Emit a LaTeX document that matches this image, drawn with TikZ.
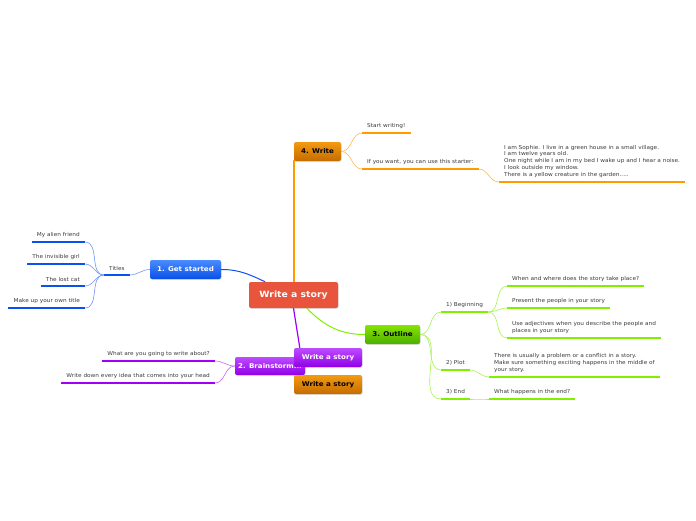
\documentclass[tikz,border=0pt]{standalone}
\usepackage{fontspec}
\setmainfont{DejaVu Sans}
\newfontfamily\wideface[FakeStretch=1.08]{DejaVu Sans}
\usepackage{xcolor}
\usepackage{tikz}
\usetikzlibrary{shadows}
\definecolor{mBlue}{HTML}{0D50F2}
\definecolor{mBlueTop}{HTML}{4A8CFF}
\definecolor{mBlueBot}{HTML}{0A4FE6}
\definecolor{mOrange}{HTML}{FF9A00}
\definecolor{mOrangeTop}{HTML}{F49A12}
\definecolor{mOrangeBot}{HTML}{C46C00}
\definecolor{mGreen}{HTML}{80F000}
\definecolor{mGreenTop}{HTML}{86E400}
\definecolor{mGreenBot}{HTML}{4CAF00}
\definecolor{mPurple}{HTML}{A000F8}
\definecolor{mPurpleTop}{HTML}{BE4CFF}
\definecolor{mPurpleBot}{HTML}{9000E6}
\definecolor{mRed}{HTML}{E8553C}
\definecolor{mText}{HTML}{3A3A3A}

\begin{document}
\begin{tikzpicture}[x=1pt, y=1pt,
  topic/.style={rounded corners=2pt, inner sep=0pt, minimum height=19pt, font=\wideface\fontsize{6.6}{7.5}\selectfont\bfseries, drop shadow={opacity=0.25, shadow xshift=0.6pt, shadow yshift=-0.8pt}},
  leaf/.style={font=\wideface\fontsize{5.35}{6.8}\selectfont, text=mText, inner xsep=5pt, inner ysep=4.3pt, align=left, append after command={(\tikzlastnode.south west) edge[draw=#1, line width=2.4pt] (\tikzlastnode.south east)}},
  twig/.style={draw=#1, line width=0.6pt}]
\useasboundingbox (0,0) rectangle (696,-520);
% main topics
\node[topic, fill=mRed, text=white, minimum width=89pt, minimum height=26pt, font=\wideface\fontsize{8.6}{10}\selectfont\bfseries] (story) at (293.5,-295) {Write a story};
\node[topic, top color=mBlueTop, bottom color=mBlueBot, text=white, minimum width=71pt] (started) at (185.5,-269.5) {1. Get started};
\node[topic, top color=mOrangeTop, bottom color=mOrangeBot, text=black, minimum width=47pt] (write) at (317.5,-151.5) {4. Write};
\node[topic, top color=mGreenTop, bottom color=mGreenBot, text=black, minimum width=55pt] (outline) at (392.5,-334.5) {3. Outline};
\node[topic, top color=mPurpleTop, bottom color=mPurpleBot, text=white, minimum width=70pt, minimum height=18pt] (brainstorm) at (270,-366) {2. Brainstorm...};
\node[topic, top color=mPurpleTop, bottom color=mPurpleBot, text=white, minimum width=68pt] (storyp) at (328,-357.5) {Write a story};
\node[topic, top color=mOrangeTop, bottom color=mOrangeBot, text=black, minimum width=68pt] (storyo) at (328,-384.5) {Write a story};
\draw[mBlue, line width=1pt] (story) to[out=155,in=0] (started);
\draw[mOrange, line width=1.5pt] (write.south west |- story.north) -- ([yshift=1pt]write.south west);
\draw[mGreen, line width=1pt] (story) to[out=-45,in=180] (outline);
\draw[mPurple, line width=1.2pt] (story.south) -- ([xshift=6pt]storyp.north west);
% 1. Get started
\node[leaf=mBlue, anchor=south west] (titles) at (104,-275) {Titles};
\node[leaf=mBlue, anchor=south east] (alien) at (85,-242) {My alien friend};
\node[leaf=mBlue, anchor=south east] (invisible) at (85,-264) {The invisible girl};
\node[leaf=mBlue, anchor=south east] (lostcat) at (85,-286) {The lost cat};
\node[leaf=mBlue, anchor=south east] (owntitle) at (85,-308) {Make up your own title};
\draw[twig=mBlue!60] (started.west) to[out=180,in=0] (titles.south east);
\foreach \n in {alien,invisible,lostcat,owntitle}
  \draw[twig=mBlue!60] (titles.south west) to[out=180,in=0] (\n.south east);
% 4. Write
\node[leaf=mOrange, anchor=south west] (startw) at (362,-133) {Start writing!};
\node[leaf=mOrange, anchor=south west] (ifwant) at (362,-169) {If you want, you can use this starter:};
\node[leaf=mOrange, anchor=south west] (starter) at (499,-182) {I am Sophie. I live in a green house in a small village.\\ I am twelve years old.\\ One night while I am in my bed I wake up and I hear a noise.\\ I look outside my window.\\ There is a yellow creature in the garden.....};
\draw[twig=mOrange!70] (write.east) to[out=0,in=180] (startw.south west);
\draw[twig=mOrange!70] (write.east) to[out=0,in=180] (ifwant.south west);
\draw[twig=mOrange!70] (ifwant.south east) to[out=0,in=180] (starter.south west);
% 3. Outline
\node[leaf=mGreen, anchor=south west] (beginning) at (441,-312) {1) Beginning};
\node[leaf=mGreen, anchor=south west] (plot) at (441,-370) {2) Plot};
\node[leaf=mGreen, anchor=south west] (theend) at (441,-399) {3) End};
\node[leaf=mGreen, anchor=south west] (whenwhere) at (507,-286) {When and where does the story take place?};
\node[leaf=mGreen, anchor=south west] (people) at (507,-308) {Present the people in your story};
\node[leaf=mGreen, anchor=south west] (adjectives) at (507,-338) {Use adjectives when you describe the people and\\ places in your story};
\node[leaf=mGreen, anchor=south west] (conflict) at (489,-377) {There is usually a problem or a conflict in a story.\\ Make sure something exciting happens in the middle of\\ your story.};
\node[leaf=mGreen, anchor=south west] (happens) at (489,-399) {What happens in the end?};
\foreach \n in {beginning,plot,theend}
  \draw[twig=mGreen!70] (outline.east) to[out=0,in=180] (\n.south west);
\foreach \n in {whenwhere,people,adjectives}
  \draw[twig=mGreen!70] (beginning.south east) to[out=0,in=180] (\n.south west);
\draw[twig=mGreen!70] (plot.south east) to[out=0,in=180] (conflict.south west);
\draw[twig=mGreen!70] (theend.south east) to[out=0,in=180] (happens.south west);
% 2. Brainstorm
\node[leaf=mPurple, anchor=south east] (aboutq) at (215,-361) {What are you going to write about?};
\node[leaf=mPurple, anchor=south east] (everyidea) at (215,-383) {Write down every idea that comes into your head};
\draw[twig=mPurple!60] (brainstorm.west) to[out=180,in=0] (aboutq.south east);
\draw[twig=mPurple!60] (brainstorm.west) to[out=180,in=0] (everyidea.south east);
\end{tikzpicture}
\end{document}
